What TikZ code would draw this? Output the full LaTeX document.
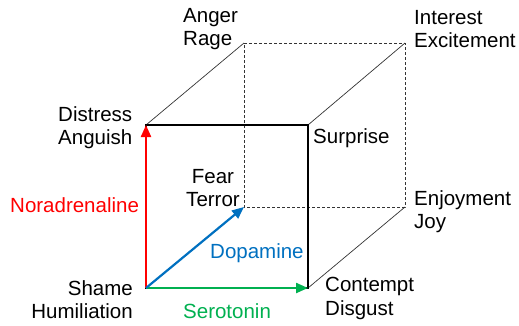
\documentclass[tikz,border=0pt]{standalone}
\usepackage{fontspec}
\setmainfont{Liberation Sans}
\usetikzlibrary{arrows.meta}
\definecolor{noracol}{RGB}{255,0,0}
\definecolor{dopacol}{RGB}{0,112,192}
\definecolor{serocol}{RGB}{0,176,80}
\tikzset{%
  emotion/.style     = {inner sep=0pt, align=left,%
                        font=\fontsize{20.5}{23.5}\selectfont},%
  frontedge/.style   = {draw=black, line width=1.6pt},%
  backedge/.style    = {draw=black!80, line width=0.7pt},%
  hiddenedge/.style  = {backedge, dash pattern=on 3pt off 2pt},%
  transmitter/.style = {line width=2.2pt,%
                        -{Triangle[length=12pt,width=10pt]}}%
}

\begin{document}
\begin{tikzpicture}[x=1pt,y=-1pt]%
	\useasboundingbox (0,0) rectangle (519,325);%
	% corners of the cube
	\coordinate (shame)    at (146,288);%
	\coordinate (distress) at (146,125);%
	\coordinate (surprise) at (308,125);%
	\coordinate (contempt) at (308,288);%
	\coordinate (fear)     at (244,207);%
	\coordinate (anger)    at (244,43);%
	\coordinate (interest) at (405,43);%
	\coordinate (enjoy)    at (405,207);%
	% back of the cube
	\draw[hiddenedge] (anger) -- (interest) -- (enjoy) -- (fear) -- (anger);%
	\draw[backedge] (distress) -- (anger);%
	\draw[backedge] (surprise) -- (interest);%
	\draw[backedge] (contempt) -- (enjoy);%
	% front of the cube
	\draw[frontedge] (shame) -- (distress) -- (surprise) -- (contempt) -- cycle;%
	% axes
	\draw[transmitter, noracol] (shame) -- (distress);%
	\draw[transmitter, serocol] (shame) -- (contempt);%
	\draw[transmitter, dopacol] (shame) -- (fear);%
	% emotions
	\node[emotion, anchor=north west] (angerlbl)    at (183,8)   {Anger\\Rage};%
	\node[emotion, anchor=north west] (interestlbl) at (414,10)  {Interest\\Excitement};%
	\node[emotion, anchor=north west] (distresslbl) at (58,106)  {Distress\\Anguish};%
	\node[emotion, anchor=north west] (surpriselbl) at (313,128) {Surprise};%
	\node[emotion, align=center, anchor=north] (fearlbl) at (213,169) {Fear\\Terror};%
	\node[emotion, anchor=north west] (enjoylbl)    at (414,190) {Enjoyment\\Joy};%
	\node[emotion, anchor=north west] (contemptlbl) at (325,277) {Contempt\\Disgust};%
	\node[emotion, align=right, anchor=north east] (shamelbl) at (133,280) {Shame\\Humiliation};%
	% transmitters
	\node[emotion, anchor=north west, text=noracol] (noralbl) at (10,197)  {Noradrenaline};%
	\node[emotion, anchor=north west, text=dopacol] (dopalbl) at (210,243) {Dopamine};%
	\node[emotion, anchor=north west, text=serocol] (serolbl) at (183,303) {Serotonin};%
\end{tikzpicture}
\end{document}
